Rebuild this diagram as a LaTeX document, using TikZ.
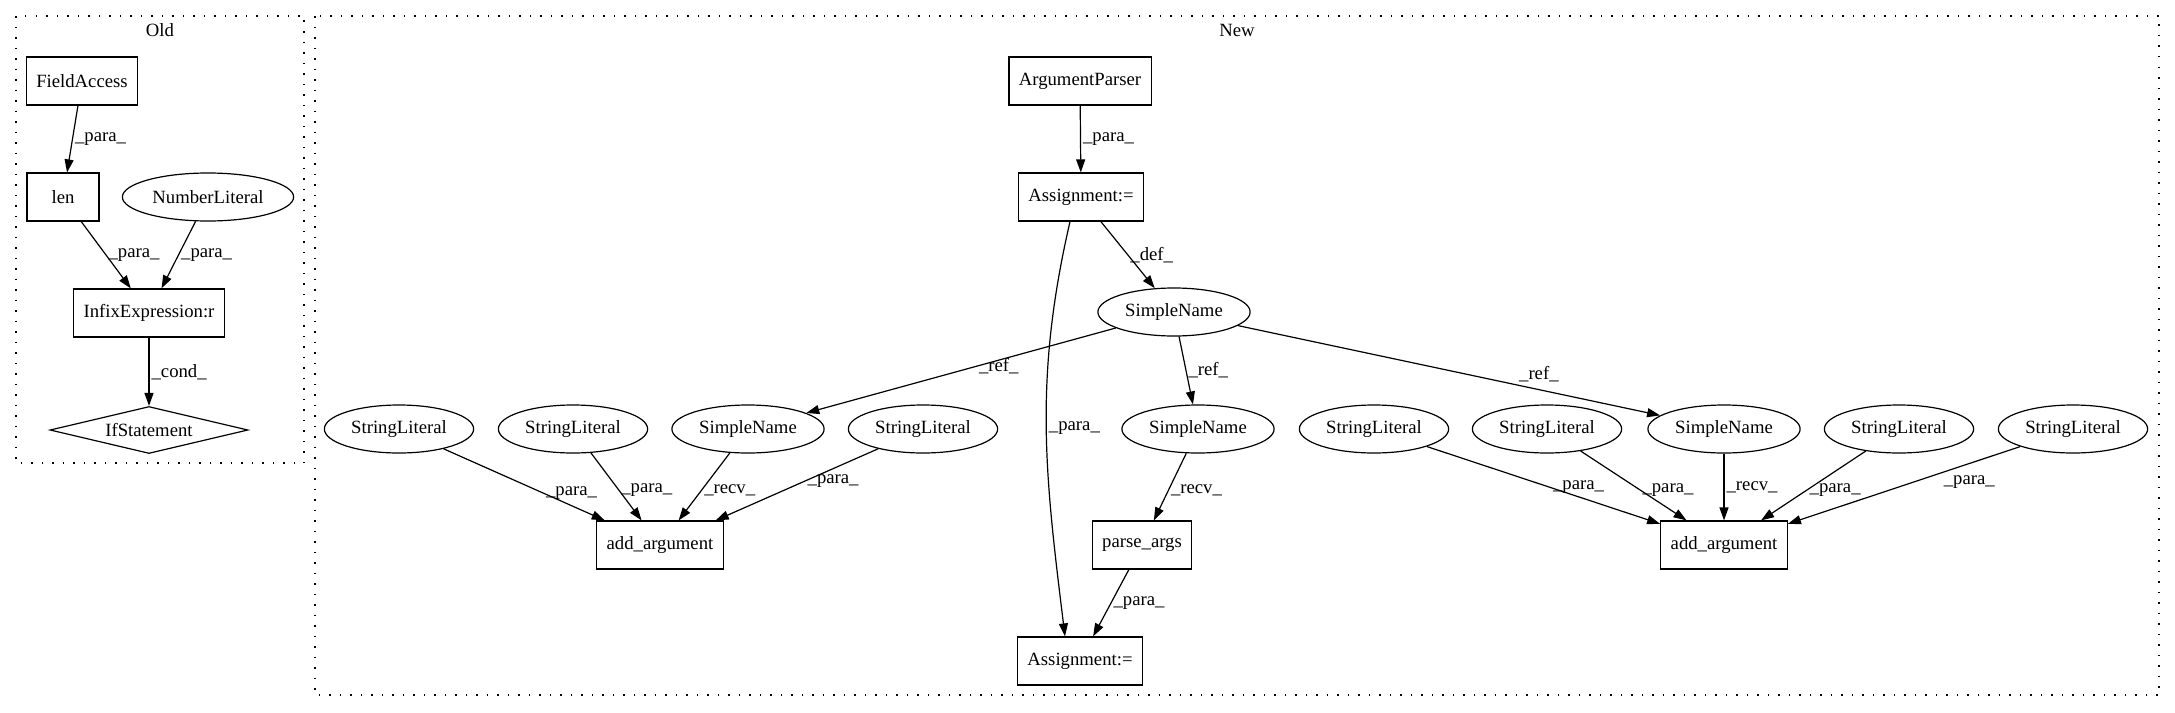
\documentclass[tikz,border=0pt]{standalone}
\usepackage{fontspec}
\setmainfont{Liberation Serif}
\usetikzlibrary{arrows.meta}
\usetikzlibrary{shapes.geometric}
\usetikzlibrary{positioning}

\begin{document}
\begin{tikzpicture}[x=1pt,y=-1pt,line width=1.2pt,
    font=\fontsize{18.7pt}{22pt}\selectfont,
    box/.style={draw,rectangle,inner xsep=10pt,minimum width=72pt,minimum height=48pt},
    ell/.style={draw,ellipse,inner xsep=5pt,minimum height=48pt},
    lbl/.style={inner sep=2pt},
    arr/.style={-{Stealth[length=13pt,width=9pt,inset=0pt]}},
    clus/.style={draw,dash pattern=on 1.5pt off 9pt}]
  \useasboundingbox (0,0) rectangle (2175,712);
  \draw[clus] (16,16) rectangle (304,463);
  \draw[clus] (315,16) rectangle (2159,695);
  \node (oldtitle) at (160,30) {Old};
  \node (newtitle) at (1237,30) {New};

  \node[box] (fieldacc) at (82,81) {FieldAccess};
  \node[box] (len) at (63,197) {len};
  \node[ell] (numlit) at (208,197) {NumberLiteral};
  \node[box] (infix) at (149,313) {InfixExpression:r};
  \node[draw,diamond,aspect=4.2,inner sep=1pt,minimum width=198pt,minimum height=47pt] (ifstmt) at (149,430) {IfStatement};

  \node[box] (argparser) at (1080,81) {ArgumentParser};
  \node[box] (assignA) at (1081,197) {Assignment:=};
  \node[ell] (parser) at (1174,312) {SimpleName};
  \node[ell] (strA) at (399,429) {StringLiteral};
  \node[ell] (strB) at (573,429) {StringLiteral};
  \node[ell] (nameA) at (748,429) {SimpleName};
  \node[ell] (strC) at (923,429) {StringLiteral};
  \node[ell] (nameP) at (1198,429) {SimpleName};
  \node[ell] (strD) at (1374,429) {StringLiteral};
  \node[ell] (strE) at (1547,429) {StringLiteral};
  \node[ell] (nameB) at (1724,429) {SimpleName};
  \node[ell] (strF) at (1899,429) {StringLiteral};
  \node[ell] (strG) at (2073,429) {StringLiteral};
  \node[box] (addargA) at (660,545) {add\_argument};
  \node[box] (parseargs) at (1142,545) {parse\_args};
  \node[box] (addargB) at (1724,545) {add\_argument};
  \node[box] (assignB) at (1080,661) {Assignment:=};

  \path[arr]
    (fieldacc) edge node [lbl,right] {\_para\_} (len)
    (len) edge node [lbl,right] {\_para\_} (infix)
    (numlit) edge node [lbl,right] {\_para\_} (infix)
    (infix) edge node [lbl,right] {\_cond\_} (ifstmt);
  \path[arr]
    (argparser) edge node [lbl,right] {\_para\_} (assignA)
    (assignA) edge node [lbl,right] {\_def\_} (parser)
    ([xshift=-11pt]assignA.south) edge [out=257,in=97] node [lbl,right] {\_para\_} ([xshift=-15pt]assignB.north)
    (parser) edge node [lbl,right,pos=0.45] {\_ref\_} (nameA)
             edge node [lbl,right] {\_ref\_} (nameP)
             edge node [lbl,above right,pos=0.66] {\_ref\_} (nameB)
    (strA) edge node [lbl,right,pos=0.62] {\_para\_} (addargA)
    (strB) edge node [lbl,right,pos=0.55] {\_para\_} (addargA)
    (nameA) edge node [lbl,right,pos=0.55] {\_recv\_} (addargA)
    (strC) edge node [lbl,right,pos=0.45] {\_para\_} (addargA)
    (nameP) edge node [lbl,right,pos=0.55] {\_recv\_} (parseargs)
    (parseargs) edge node [lbl,right] {\_para\_} (assignB)
    (strD) edge node [lbl,right,pos=0.53] {\_para\_} (addargB)
    (strE) edge node [lbl,right,pos=0.56] {\_para\_} (addargB)
    (nameB) edge node [lbl,right] {\_recv\_} (addargB)
    (strF) edge node [lbl,right,pos=0.56] {\_para\_} (addargB)
    (strG) edge node [lbl,below right,pos=0.34] {\_para\_} (addargB);
\end{tikzpicture}
\end{document}
